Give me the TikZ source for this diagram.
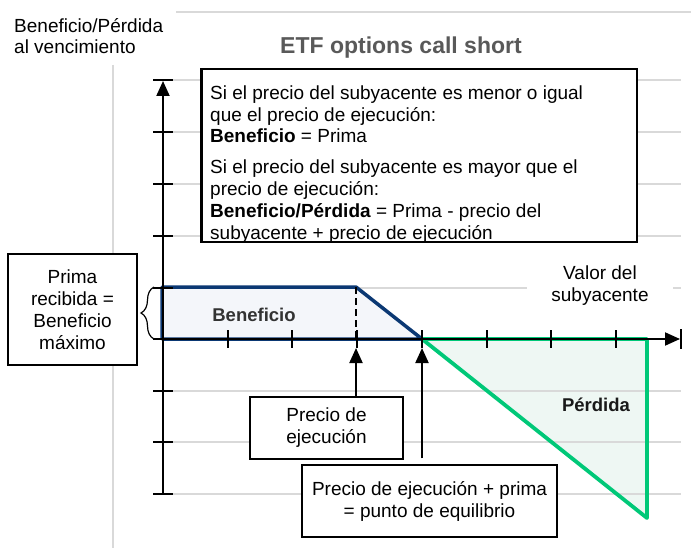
\documentclass[tikz,border=0pt]{standalone}
\usepackage{fontspec}
\setmainfont{Liberation Sans}
\usepackage{xcolor}
\usepackage{tikz}
\usetikzlibrary{calc}
\usetikzlibrary{arrows.meta}
\usetikzlibrary{decorations.pathreplacing}

\definecolor{payblue}{RGB}{11,56,115}
\definecolor{paygreen}{RGB}{0,200,120}
\definecolor{fillblue}{RGB}{244,246,250}
\definecolor{fillgreen}{RGB}{238,247,243}
\definecolor{guidegray}{RGB}{217,217,217}
\definecolor{titlegray}{RGB}{89,89,89}

\tikzset{
  guide/.style={draw=guidegray, line width=1.5pt},
  tickmark/.style={line width=2pt},
  pointer/.style={line width=2pt, -{Triangle[length=15pt,width=13pt]}},
  infobox/.style={draw, fill=white, line width=1.5pt, align=center, inner sep=0pt,
    font=\fontsize{19}{22}\selectfont},
  areatext/.style={font=\fontsize{18.5}{22}\selectfont\bfseries, text=black!80},
}

\begin{document}
\begin{tikzpicture}[x=1pt,y=-1pt]
            \useasboundingbox (0,0) rectangle (691,548);

            % Drawing the light guide lines
            \draw [guide] (176.0,12.0) -- (691.0,12.0);%
            \draw [guide] (113.0,65.0) -- (113.0,548.0);%

            % Filling the profit and loss areas
            \fill [fillblue] (162.0,287.0) -- (356.0,287.0) -- (422.0,339.0) -- (162.0,339.0) -- cycle;%
            \fill [fillgreen] (422.0,339.0) -- (647.0,339.0) -- (647.0,518.0) -- cycle;%

            % Drawing the grid lines
            \foreach \y in {80,132,184,236,288,391,442,494}
              \draw [guide] (173.0,\y) -- (681.0,\y);%

            % Drawing the payoff lines
            \draw [payblue, line width=3.5pt, line join=round] (162.0,287.0) -- (356.0,287.0) -- (422.0,339.0) -- (162.0,339.0) -- cycle;%
            \draw [paygreen, line width=3.8pt, line join=round] (422.0,339.0) -- (647.0,339.0) -- (647.0,518.0) -- cycle;%

            % Drawing the axes
            \draw [pointer] (163.0,494.0) -- (163.0,81.0);%
            \draw [pointer] (163.0,339.0) -- (680.0,339.0);%
            \draw [tickmark] (680.6,329.0) -- (680.6,349.0);%
            \foreach \y in {80,132,184,236,288,339,391,442,494}
              \draw [tickmark] (153.0,\y) -- (173.0,\y);%
            \foreach \x in {227.7,292.4,357.1,421.8,486.5,551.2,615.9}
              \draw [tickmark] (\x,330.0) -- (\x,348.0);%

            % Drawing the strike line
            \draw [line width=2.5pt, dash pattern=on 7pt off 4pt] (356.0,287.0) -- (356.0,340.0);%

            % Marking the axis captions
            \node [anchor=north west, align=left, inner sep=0pt, font=\fontsize{19}{21}\selectfont] (yaxis) at (14.0,18.0) {Beneficio/Pérdida\\al vencimiento};%
            \node [anchor=base west, inner sep=0pt, font=\fontsize{23}{27}\selectfont\bfseries, text=titlegray] (title) at (280.0,54.0) {ETF options call short};%
            \node [fill=white, align=center, inner xsep=24pt, inner ysep=2pt, font=\fontsize{19}{22}\selectfont] (valor) at (600.0,286.0) {Valor del\\subyacente};%

            % Marking the conditions box
            \node [draw, fill=white, line width=1.5pt, inner sep=0pt, minimum width=435pt, minimum height=172pt, anchor=north west] (condbox) at (201.0,69.0) {};%
            \begin{scope}
              \clip (condbox.north west) rectangle (condbox.south east);
              \node [anchor=north west, align=left, inner sep=0pt, font=\fontsize{19}{21.7}\selectfont] (condtext) at (210.0,85.5)
                {Si el precio del subyacente es menor o igual\\que el precio de ejecución:\\\textbf{Beneficio} = Prima\\[9.4pt]Si el precio del subyacente es mayor que el\\precio de ejecución:\\\textbf{Beneficio/Pérdida} = Prima - precio del\\subyacente + precio de ejecución};%
            \end{scope}
            \draw [line width=1.5pt] (condbox.north west) rectangle (condbox.south east);%

            % Marking the premium box and brace
            \node [infobox, minimum width=129pt, minimum height=111pt] (prima) at (72.5,309.5) {Prima\\recibida =\\Beneficio\\máximo};%
            \draw [line width=1.2pt, decorate, decoration={brace, amplitude=13pt}] (154.0,339.0) -- (154.0,287.0);%

            % Marking the area labels
            \node [areatext] (gain) at (254.0,315.0) {Beneficio};%
            \node [areatext, text=black!90] (loss) at (596.0,405.0) {Pérdida};%

            % Marking the strike and break-even pointers
            \node [infobox, minimum width=153pt, minimum height=62pt] (strikebox) at (326.5,428.0) {Precio de\\ejecución};%
            \node [infobox, minimum width=255pt, minimum height=72pt] (equilbox) at (429.5,501.0) {Precio de ejecución + prima\\= punto de equilibrio};%
            \coordinate (strike) at (356.0,348.0);
            \coordinate (breakeven) at (422.0,348.0);
            \draw [pointer] (strikebox.north -| strike) -- (strike);%
            \draw [pointer, shorten <=6pt] (equilbox.north -| breakeven) -- (breakeven);%
\end{tikzpicture}
\end{document}
